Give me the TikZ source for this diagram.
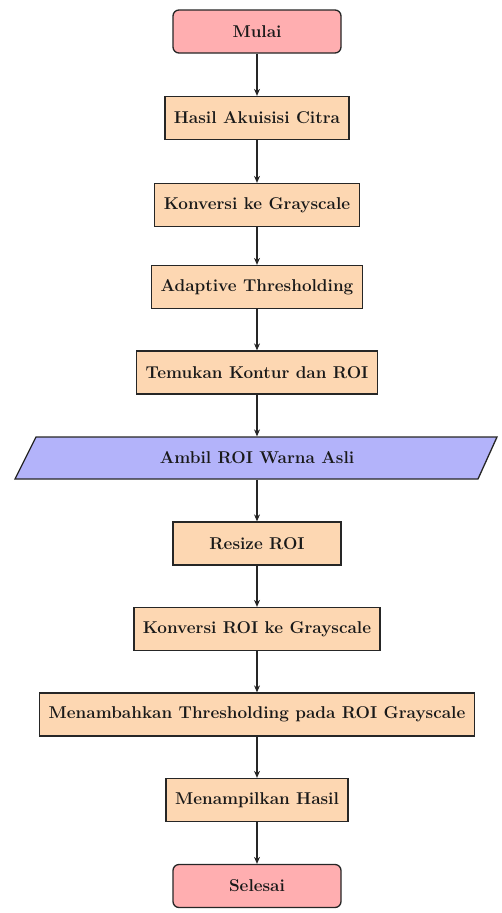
\documentclass[tikz,border=0pt]{standalone}
\usetikzlibrary{arrows.meta}
\definecolor{termfill}{HTML}{FFAEB0}
\definecolor{procfill}{HTML}{FDD7B2}
\definecolor{iofill}{HTML}{B3B3FA}
\begin{document}
\begin{tikzpicture}[x=1pt,y=1pt,
  base/.style={draw=black!85, line width=1.3pt, minimum height=43pt, minimum width=168pt,
    inner xsep=9pt, font=\fontsize{17.1}{20}\selectfont\bfseries, text=black!90},
  term/.style={base, rounded corners=6pt, fill=termfill},
  proc/.style={base, fill=procfill},
  arr/.style={draw=black!85, line width=1.1pt, -{Stealth[length=7pt,width=6pt]}}]
\useasboundingbox (0,0) rectangle (502,-913);
\node[term] (n1) at (257,-31.5) {Mulai};
\node[proc] (n2) at (257,-118) {Hasil Akuisisi Citra};
\node[proc] (n3) at (257,-205) {Konversi ke Grayscale};
\node[proc] (n4) at (257,-287) {Adaptive Thresholding};
\node[proc] (n5) at (257,-372.5) {Temukan Kontur dan ROI};
\path[fill=iofill, draw=black!85, line width=1.3pt]
  (36,-437) -- (497,-437) -- (478,-479) -- (15,-479) -- cycle;
\node[base, draw=none, minimum width=470pt, minimum height=42pt] (n6) at (257,-458) {Ambil ROI Warna Asli};
\node[proc] (n7) at (257,-543.5) {Resize ROI};
\node[proc] (n8) at (257,-629) {Konversi ROI ke Grayscale};
\node[proc] (n9) at (257,-714.5) {Menambahkan Thresholding pada ROI Grayscale};
\node[proc] (n10) at (257,-800) {Menampilkan Hasil};
\node[term] (n11) at (257,-886) {Selesai};
\foreach \a/\b in {n1/n2,n2/n3,n3/n4,n4/n5,n5/n6,n6/n7,n7/n8,n8/n9,n9/n10,n10/n11}
  \draw[arr] (\a) -- (\b);
\end{tikzpicture}
\end{document}
